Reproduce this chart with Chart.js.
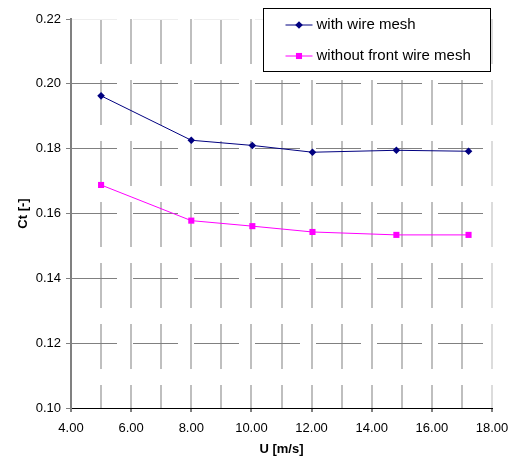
<!DOCTYPE html>
<html>
<head>
<meta charset="utf-8">
<script src="https://cdn.jsdelivr.net/npm/chart.js@4.4.0/dist/chart.umd.min.js"></script>
<style>
    html, body { margin: 0; padding: 0; background: #fff; }
    #wrap { position: relative; width: 512px; height: 457px; }
</style>
</head>
<body>
<div id="wrap"><canvas id="ctChart"></canvas></div>
<script>
// Wind speed U [m/s] of each measurement
const windSpeed = [5.0, 8.0, 10.03, 12.03, 14.82, 17.22];
// Thrust coefficient Ct [-]
const ctWithMesh = [0.1963, 0.1826, 0.1810, 0.1789, 0.1795, 0.1792];
const ctWithoutFrontMesh = [0.1688, 0.1578, 0.1561, 0.1543, 0.1534, 0.1534];
const seriesLabels = ['with wire mesh', 'without front wire mesh'];

// Axis ticks
const xTicks = [4, 6, 8, 10, 12, 14, 16, 18];
const yTicks = [0.10, 0.12, 0.14, 0.16, 0.18, 0.20, 0.22];

const FONT = '"Liberation Sans", Arial, sans-serif';
const near = (a, b) => Math.abs(a - b) < 1e-6;
const toPoints = ys => windSpeed.map((x, i) => ({ x: x, y: ys[i] }));

// Legend with line + marker samples inside a framed box (top right)
const boxLegend = {
    id: 'boxLegend',
    afterDraw(chart) {
        const ctx = chart.ctx;
        const area = chart.chartArea;
        const w = 227, h = 63;
        const x0 = Math.round(area.right - 2 - w) + 0.5;
        const y0 = 8.5;

        ctx.save();
        ctx.fillStyle = '#fff';
        ctx.fillRect(x0, y0, w, h);
        ctx.strokeStyle = '#000';
        ctx.lineWidth = 1;
        ctx.strokeRect(x0, y0, w, h);

        ctx.font = '15px ' + FONT;
        ctx.textBaseline = 'middle';
        chart.data.datasets.forEach((ds, i) => {
            const y = 25 + i * 31;
            const lx = x0 + 22;
            ctx.strokeStyle = ds.borderColor;
            ctx.lineWidth = 1;
            ctx.beginPath();
            ctx.moveTo(lx, y);
            ctx.lineTo(lx + 27, y);
            ctx.stroke();

            const cx = lx + 13.5;
            const r = ds.pointRadius;
            ctx.fillStyle = ds.borderColor;
            ctx.beginPath();
            if (ds.pointStyle === 'rectRot') {
                ctx.moveTo(cx, y - r);
                ctx.lineTo(cx + r, y);
                ctx.lineTo(cx, y + r);
                ctx.lineTo(cx - r, y);
                ctx.closePath();
            } else {
                const s = r * Math.SQRT1_2;
                ctx.rect(cx - s, y - s, 2 * s, 2 * s);
            }
            ctx.fill();

            ctx.fillStyle = '#000';
            ctx.fillText(ds.label, lx + 31, y);
        });
        ctx.restore();
    }
};

const ctx = document.getElementById('ctChart').getContext('2d');
new Chart(ctx, {
    type: 'scatter',
    data: {
        datasets: [
            {
                label: seriesLabels[0],
                data: toPoints(ctWithMesh),
                showLine: true,
                borderColor: '#000080',
                backgroundColor: '#000080',
                borderWidth: 1,
                pointStyle: 'rectRot',
                pointRadius: 3.8,
                pointBorderWidth: 0,
                pointHoverRadius: 3.8
            },
            {
                label: seriesLabels[1],
                data: toPoints(ctWithoutFrontMesh),
                showLine: true,
                borderColor: '#ff00ff',
                backgroundColor: '#ff00ff',
                borderWidth: 1,
                pointStyle: 'rect',
                pointRadius: 4.3,
                pointBorderWidth: 0,
                pointHoverRadius: 4.3
            }
        ]
    },
    options: {
        responsive: true,
        maintainAspectRatio: false,
        animation: false,
        layout: { padding: { top: 19, right: 20, left: 0, bottom: 0 } },
        plugins: {
            legend: { display: false },
            tooltip: { enabled: false }
        },
        scales: {
            x: {
                type: 'linear',
                min: xTicks[0],
                max: xTicks[xTicks.length - 1],
                afterFit: scale => {
                    scale.height = 49;
                    scale.paddingLeft = 0;
                    scale.paddingRight = 0;
                },
                ticks: {
                    stepSize: 1,
                    autoSkip: false,
                    maxRotation: 0,
                    minRotation: 0,
                    padding: 9,
                    color: '#000',
                    font: { family: FONT, size: 13 },
                    callback: v => xTicks.some(t => near(t, v)) ? v.toFixed(2) : ''
                },
                grid: {
                    lineWidth: 2,
                    color: c => {
                        const v = c.tick ? c.tick.value : 0;
                        if (near(v, xTicks[0])) return 'rgba(0,0,0,0)';
                        if (near(v, xTicks[xTicks.length - 1])) return '#dcdcdc';
                        return '#bfbfbf';
                    },
                    tickLength: 4,
                    tickWidth: 1,
                    tickColor: c => (c.tick && xTicks.some(t => near(t, c.tick.value))) ? '#000' : 'rgba(0,0,0,0)'
                },
                border: { display: true, color: '#000', width: 1, dash: [45, 16] },
                title: {
                    display: true,
                    text: 'U [m/s]',
                    color: '#000',
                    font: { family: FONT, size: 13, weight: 'bold' },
                    padding: { top: 0, bottom: 0 }
                }
            },
            y: {
                type: 'linear',
                min: yTicks[0],
                max: yTicks[yTicks.length - 1],
                afterFit: scale => { scale.width = 71; },
                afterBuildTicks: scale => { scale.ticks = yTicks.map(v => ({ value: v })); },
                ticks: {
                    padding: 5,
                    color: '#000',
                    font: { family: FONT, size: 13 },
                    callback: v => v.toFixed(2)
                },
                grid: {
                    lineWidth: 1,
                    color: c => {
                        const v = c.tick ? c.tick.value : 0;
                        if (near(v, yTicks[0])) return 'rgba(0,0,0,0)';
                        if (near(v, yTicks[yTicks.length - 1])) return '#eeeeee';
                        return '#808080';
                    },
                    tickLength: 5,
                    tickWidth: 1,
                    tickColor: '#808080'
                },
                border: { display: true, color: '#808080', width: 2, dash: [45, 16] },
                title: {
                    display: true,
                    text: 'Ct [-]',
                    color: '#000',
                    font: { family: FONT, size: 13, weight: 'bold' },
                    padding: { top: 16, bottom: 0 }
                }
            }
        }
    },
    plugins: [boxLegend]
});
</script>
</body>
</html>
